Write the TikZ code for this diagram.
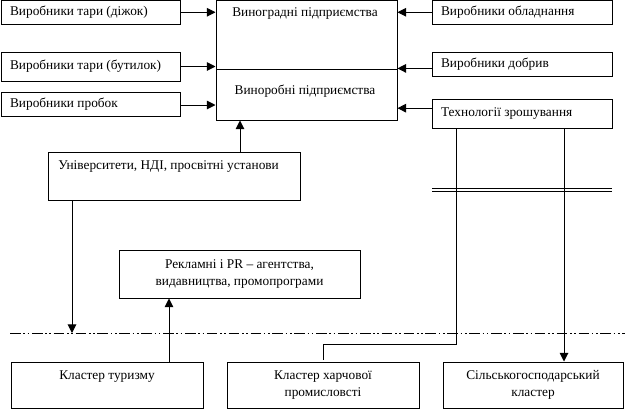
\documentclass[tikz,border=0pt]{standalone}
\usepackage{fontspec}
\setmainfont{Liberation Serif}
\usetikzlibrary{arrows.meta,fit}
\begin{document}
\begin{tikzpicture}[x=0.75pt,y=-0.75pt,
  box/.style={draw,line width=0.75pt,inner sep=0pt,rectangle},
  txt/.style={inner sep=0pt,font=\fontsize{10}{13.2}\selectfont,align=center},
  ln/.style={line width=0.75pt},
  arr/.style={line width=0.75pt,-{Triangle[length=6.5pt,width=6.5pt]}},
  dashdot/.style={line width=0.75pt,dash pattern=on 8pt off 2pt on 1.2pt off 2pt on 1.2pt off 2pt}]
\useasboundingbox (0,0) rectangle (625,411);
% left boxes
\node[box,fit={(1,0.5) (180,24)}] (tarad) {};
\node[txt,anchor=west] (ttarad) at ([xshift=7pt]tarad.west) {Виробники тари (діжок)};
\node[box,fit={(1,52) (180,81)}] (tarab) {};
\node[txt,anchor=west] (ttarab) at ([xshift=7pt]tarab.west) {Виробники тари (бутилок)};
\node[box,fit={(1,92) (180,116)}] (prob) {};
\node[txt,anchor=west] (tprob) at ([xshift=7pt]prob.west) {Виробники пробок};
% central boxes
\node[box,fit={(216,0.5) (397,69)}] (ving) {};
\node[txt] (tving) at (305,14) {Виноградні підприємства};
\node[box,fit={(216,69) (397,120)}] (vinr) {};
\node[txt] (tvinr) at (305,91) {Виноробні підприємства};
% right boxes
\node[box,fit={(432,0.5) (612,24)}] (obl) {};
\node[txt,anchor=west] (tobl) at ([xshift=7pt]obl.west) {Виробники обладнання};
\node[box,fit={(432,52) (612,76)}] (dobr) {};
\node[txt,anchor=west] (tdobr) at ([xshift=7pt]dobr.west) {Виробники добрив};
\node[box,fit={(432,99) (612,128)}] (tech) {};
\node[txt,anchor=west] (ttech) at ([xshift=7pt]tech.west) {Технології зрошування};
% university
\node[box,fit={(48,152) (300,200)}] (univ) {};
\node[txt,anchor=west] (tuniv) at (58,167) {Університети, НДІ, просвітні установи};
% reklama
\node[box,fit={(119,250) (360,298)}] (rekl) {};
\node[txt] (trekl) at (rekl.center) {Рекламні і PR -- агентства,\\видавництва, промопрограми};
% bottom clusters
\node[box,fit={(11,362) (203,408)}] (tur) {};
\node[txt] (ttur) at (107,377) {Кластер туризму};
\node[box,fit={(227,362) (419,408)}] (harch) {};
\node[txt] (tharch) at (harch.center) {Кластер харчової\\промисловсті};
\node[box,fit={(443,362) (623,408)}] (silsk) {};
\node[txt] (tsilsk) at (silsk.center) {Сільськогосподарський\\кластер};
% coordinates
\coordinate (dl) at (10,333);
\coordinate (dr) at (625,333);
\coordinate (cu) at (240,0);
\coordinate (cd) at (72,0);
\coordinate (ct) at (169,0);
\coordinate (ca) at (456,0);
\coordinate (cb) at (564,0);
\coordinate (cc) at (323,344);
% dash-dot line
\draw[dashdot] (dl) -- (dr);
% double line
\draw[ln] (432,188) -- (612,188);
\draw[ln] (432,191) -- (612,191);
% arrows into central box
\draw[arr] (tarad.east) -- (tarad.east -| ving.west);
\draw[arr] (tarab.east) -- (tarab.east -| ving.west);
\draw[arr] ([yshift=-0.75pt]prob.east) -- ([yshift=-0.75pt]prob.east -| vinr.west);
\draw[arr] (obl.west) -- (obl.west -| ving.east);
\draw[arr] ([yshift=-3.3pt]dobr.west) -- ([yshift=-3.3pt]dobr.west -| ving.east);
\draw[arr] ([yshift=4pt]tech.west) -- ([yshift=4pt]tech.west -| vinr.east);
\draw[arr] (cu |- univ.north) -- (cu |- vinr.south);
\draw[arr] (cd |- univ.south) -- (cd |- dl);
\draw[arr] (ct |- tur.north) -- (ct |- rekl.south);
\draw[ln] (ca |- tech.south) |- (cc) -- ([yshift=1.5pt]cc |- harch.north);
\draw[arr] (cb |- tech.south) -- (cb |- silsk.north);
\end{tikzpicture}
\end{document}
